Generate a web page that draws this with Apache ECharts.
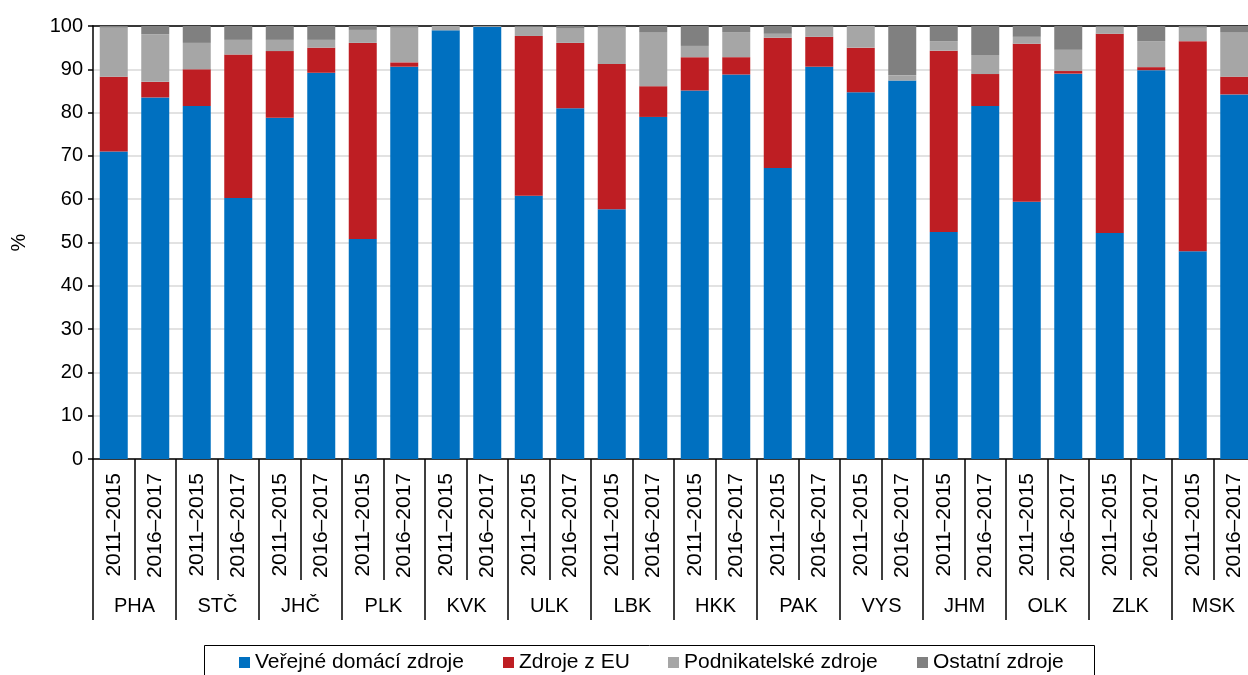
<!DOCTYPE html>
<html>
<head>
<meta charset="utf-8">
<script src="https://cdn.jsdelivr.net/npm/echarts@6/dist/echarts.min.js"></script>
<style>
  html, body { margin: 0; padding: 0; background: #fff; }
  #chart { width: 1248px; height: 675px; }
</style>
</head>
<body>
<div id="chart"></div>
<script>
// kraje a obdobi
const regions = ['PHA', 'STČ', 'JHČ', 'PLK', 'KVK', 'ULK', 'LBK', 'HKK', 'PAK', 'VYS', 'JHM', 'OLK', 'ZLK', 'MSK'];
const periods = ['2011–2015', '2016–2017'];

// podily zdroju (%), dvojice 2011–2015 / 2016–2017 pro kazdy kraj
const verejne = [71.0, 83.5, 81.5, 60.3, 78.8, 89.2, 50.8, 90.6, 99.0, 99.8, 60.8, 81.0, 57.7, 79.0,
  85.1, 88.8, 67.2, 90.6, 84.7, 87.4, 52.4, 81.5, 59.4, 89.0, 52.2, 89.8, 48.0, 84.2];
const eu = [17.3, 3.6, 8.5, 33.1, 15.4, 5.8, 45.3, 1.0, 0, 0, 36.9, 15.1, 33.5, 7.1,
  7.7, 4.0, 30.1, 6.9, 10.3, 0, 41.9, 7.4, 36.5, 0.6, 46.0, 0.7, 48.5, 4.1];
const podnikatelske = [11.3, 11.0, 6.1, 3.4, 2.6, 1.8, 3.0, 8.0, 1.0, 0.2, 2.1, 3.3, 8.4, 12.5,
  2.6, 5.8, 0.9, 2.3, 5.0, 1.2, 2.2, 4.4, 1.6, 4.9, 1.6, 6.0, 3.1, 10.3];
const ostatni = [0.4, 1.9, 3.9, 3.2, 3.2, 3.2, 0.9, 0.4, 0, 0, 0.2, 0.6, 0.4, 1.4,
  4.6, 1.4, 1.8, 0.2, 0, 11.4, 3.5, 6.7, 2.5, 5.5, 0.2, 3.5, 0.4, 1.4];

const seriesNames = ['Veřejné domácí zdroje', 'Zdroje z EU', 'Podnikatelské zdroje', 'Ostatní zdroje'];
const colors = ['#0070C0', '#BE1E23', '#A6A6A6', '#808080'];

const categories = [];
regions.forEach(function () {
  periods.forEach(function (p) {
    categories.push(p);
  });
});

const fontFamily = 'Arial, "Liberation Sans", sans-serif';
const chart = echarts.init(document.getElementById('chart'));

const dataSets = [verejne, eu, podnikatelske, ostatni];
const legendLeft = [239, 503, 668, 917];

const option = {
  animation: false,
  textStyle: { fontFamily: fontFamily, color: '#000' },
  grid: { left: 93, right: -7, top: 26, bottom: 216, containLabel: false, outerBoundsMode: 'none' },
  legend: seriesNames.map(function (name, i) {
    return {
      data: [name],
      left: legendLeft[i],
      top: 652,
      padding: 0,
      itemWidth: 11,
      itemHeight: 11,
      itemGap: 4,
      icon: 'rect',
      textStyle: { fontSize: 21, color: '#000', fontFamily: fontFamily }
    };
  }),
  graphic: [{
    type: 'rect',
    left: 202,
    top: 643,
    shape: { width: 890, height: 40 },
    style: { fill: 'none', stroke: '#000', lineWidth: 1 }
  }],
  xAxis: [{
    type: 'category',
    data: categories,
    position: 'bottom',
    axisLine: { lineStyle: { color: '#000', width: 1.5 } },
    axisTick: { show: true, interval: 0, length: 121, lineStyle: { color: '#000', width: 1.5 } },
    axisLabel: { interval: 0, rotate: 90, margin: 14, fontSize: 21, color: '#000' }
  }, {
    type: 'category',
    data: regions,
    position: 'bottom',
    axisLine: { show: false },
    axisTick: { show: true, interval: 0, length: 161, lineStyle: { color: '#000', width: 1.5 } },
    axisLabel: { interval: 0, margin: 137, fontSize: 20, color: '#000' }
  }, {
    type: 'category',
    data: categories,
    position: 'top',
    axisLine: { lineStyle: { color: '#000', width: 1.5 } },
    axisTick: { show: false },
    axisLabel: { show: false }
  }],
  yAxis: {
    type: 'value',
    min: 0,
    max: 100,
    interval: 10,
    name: '%',
    nameLocation: 'middle',
    nameGap: 64,
    nameRotate: 90,
    nameTextStyle: { fontSize: 20, color: '#000' },
    axisLine: { show: true, lineStyle: { color: '#000', width: 1.5 } },
    axisTick: { show: true, length: 5, lineStyle: { color: '#000', width: 1.5 } },
    axisLabel: { fontSize: 20, color: '#000', margin: 10 },
    splitLine: { lineStyle: { color: '#D9D9D9', width: 1.5 } }
  },
  series: seriesNames.map(function (name, i) {
    return {
      name: name,
      type: 'bar',
      stack: 'total',
      xAxisIndex: 0,
      barWidth: 28,
      itemStyle: { color: colors[i] },
      data: dataSets[i]
    };
  })
};

chart.setOption(option);
</script>
</body>
</html>
